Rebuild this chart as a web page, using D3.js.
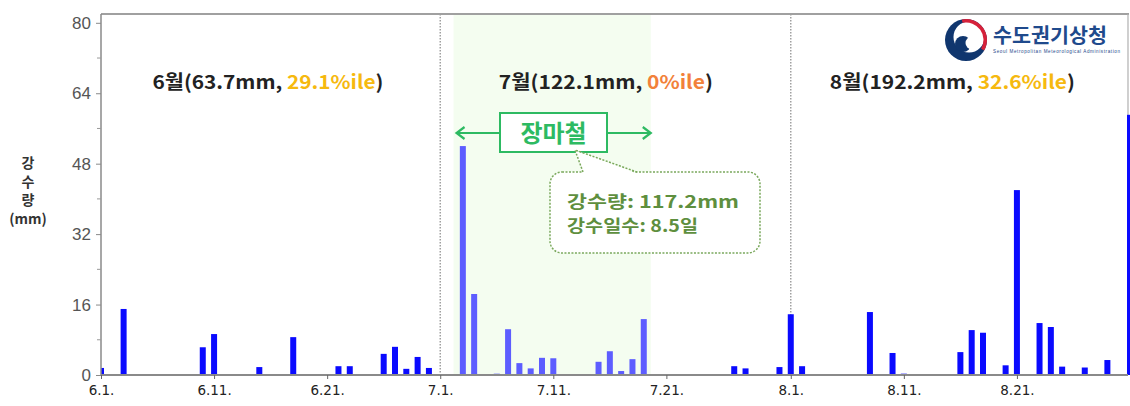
<!DOCTYPE html>
<html><head><meta charset="utf-8">
<script src="https://cdn.jsdelivr.net/npm/d3@7"></script>
<style>
html,body{margin:0;padding:0;background:#fff;}
svg{display:block;}
</style></head>
<body>
<svg id="chart" width="1130" height="406"></svg>
<script>
// ---- data ----
const juneRain = [1.6,0,15.0,0.1,0,0,0,0.1,0,6.3,9.3,0,0,0,1.8,0,0.1,8.6,0,0,0,2.0,2.0,0,0,4.8,6.4,1.4,4.1,1.6];
const julyRain = [0,0,52.0,18.4,0,0.3,10.4,2.7,1.5,3.9,3.8,0,0,0,3.0,5.4,0.9,3.6,12.7,0,0,0,0,0,0,0,2.0,1.5,0,0,1.8];
const augRain  = [13.8,2.0,0,0,0,0.1,0,14.3,0,5.0,0.3,0,0,0,0,5.2,10.2,9.6,0,2.2,42.0,0.2,11.8,10.9,1.9,0.2,1.7,0,3.4,0,59.1];
const yTicks = [0,16,32,48,64,80];
const xTickDates = ["2024-06-01","2024-06-11","2024-06-21","2024-07-01","2024-07-11","2024-07-21","2024-08-01","2024-08-11","2024-08-21"];
const monthDividers = ["2024-07-01","2024-08-01"];
const monsoonStart = "2024-07-02", monsoonEnd = "2024-07-19";
const monthLabels = [
  {month:"6월", total:"63.7mm", pct:"29.1%ile", pctColor:"#f6b90f", from:"2024-06-01", to:"2024-06-30"},
  {month:"7월", total:"122.1mm", pct:"0%ile", pctColor:"#f2813a", from:"2024-07-01", to:"2024-07-31"},
  {month:"8월", total:"192.2mm", pct:"32.6%ile", pctColor:"#f6b90f", from:"2024-08-01", to:"2024-08-31"}
];
const monsoonLabel = "장마철";
const calloutLines = ["강수량: 117.2mm", "강수일수: 8.5일"];
const yLabelLines = ["강","수","량","(mm)"];

const parse = d3.utcParse("%Y-%m-%d");
const day0 = parse("2024-06-01");
const allRain = juneRain.concat(julyRain, augRain);
const data = allRain.map((v,i)=>({date:d3.utcDay.offset(day0,i), value:v}));

// ---- scales ----
const svg = d3.select("#chart");
const L=101, R=1128, T=14, B=375;
const x = d3.scaleUtc().domain([day0, parse("2024-08-31")]).range([101, 1130]);
const y = d3.scaleLinear().domain([0,82]).range([B, T]);

const mS = parse(monsoonStart), mE = parse(monsoonEnd);
const inMonsoon = d => d >= mS && d <= mE;

svg.append("defs").append("clipPath").attr("id","plotclip")
  .append("rect").attr("x",L).attr("y",T).attr("width",R-L+3).attr("height",B-T+1);

// monsoon shading
svg.append("rect").attr("x", x(mS)+2).attr("y", T+1)
  .attr("width", x(mE)+7-(x(mS)+2)).attr("height", B-T-1)
  .attr("fill","#f4fdf0");

// month divider dotted lines
svg.selectAll(".div").data(monthDividers).join("line")
  .attr("x1",d=>x(parse(d))).attr("x2",d=>x(parse(d)))
  .attr("y1",T).attr("y2",B)
  .attr("stroke","#9a9a9a").attr("stroke-width",1.4).attr("stroke-dasharray","1.5,1.5");

// frame
svg.append("line").attr("x1",L).attr("x2",R+1).attr("y1",T).attr("y2",T)
  .attr("stroke","#a0a0a0").attr("stroke-width",2);
svg.append("line").attr("x1",R).attr("x2",R).attr("y1",T).attr("y2",B)
  .attr("stroke","#b0b0b0").attr("stroke-width",1.2);

// bars
const bw = 6;
svg.append("g").attr("clip-path","url(#plotclip)")
  .selectAll("rect").data(data.filter(d=>d.value>0)).join("rect")
  .attr("x", d=>x(d.date)-bw/2)
  .attr("y", d=>y(d.value))
  .attr("width", bw)
  .attr("height", d=>Math.max(0.8, B - y(d.value)))
  .attr("fill", d=> inMonsoon(d.date) ? "#5d5dff" : "#0a0aff");

// y axis
const yAxis = d3.axisLeft(y).tickValues(yTicks).tickSize(5).tickPadding(5);
const gy = svg.append("g").attr("transform",`translate(${L},0)`).call(yAxis);
gy.select(".domain").attr("stroke","#8a8a8a").attr("stroke-width",1.5).attr("d",`M-0,${T}V${B}`);
gy.selectAll(".tick line").attr("stroke","#8a8a8a");
gy.selectAll(".tick text").attr("fill","#555").style("font-family","'Liberation Sans', Arial, sans-serif").style("font-size","17px");
const minor = d3.range(8,81,16);
gy.selectAll(".minor").data(minor).join("line")
  .attr("x1",-4).attr("x2",0).attr("y1",d=>y(d)).attr("y2",d=>y(d)).attr("stroke","#999");

// x axis
const fmt = d3.utcFormat("%-m.%-d.");
const xAxis = d3.axisBottom(x).tickValues(xTickDates.map(parse)).tickFormat(fmt).tickSize(4).tickPadding(6);
const gx = svg.append("g").attr("transform",`translate(0,${B})`).call(xAxis);
gx.select(".domain").attr("stroke","#8a8a8a").attr("stroke-width",2).attr("d",`M${L},0H${R}`);
gx.selectAll(".tick line").attr("stroke","#666");
gx.selectAll(".tick text").attr("fill","#222").style("font-family","'DejaVu Sans', sans-serif").style("font-size","13.5px");

// y label
svg.append("text").attr("x",28).attr("y",168).attr("text-anchor","middle")
  .style("font-family","'Noto Sans CJK KR', sans-serif").style("font-size","14px").style("font-weight","bold").attr("fill","#333")
  .selectAll("tspan").data(yLabelLines).join("tspan")
  .attr("x",28).attr("dy",(d,i)=> i===0?0:18.5).text(d=>d);

// month labels
const labelWidths = [231, 214, 245];
const labelShift = [3, -4, -8];
monthLabels.forEach((m,i)=>{
  const cx = (x(parse(m.from)) + x(parse(m.to)))/2 + labelShift[i];
  const t = svg.append("text").attr("x",cx).attr("y",89).attr("text-anchor","middle")
    .style("font-family","'Noto Sans CJK KR', sans-serif").style("font-size","19px").style("font-weight","bold")
    .attr("fill","#222").attr("textLength",labelWidths[i]).attr("lengthAdjust","spacingAndGlyphs");
  t.append("tspan").text(`${m.month}(${m.total}, `);
  t.append("tspan").attr("fill",m.pctColor).text(m.pct);
  t.append("tspan").text(")");
});

// monsoon arrow + label
const green = "#2dba62";
const ax1 = x(mS)+5, ax2 = x(mE)+7, ay = 133;
svg.append("line").attr("x1",ax1).attr("x2",ax2).attr("y1",ay).attr("y2",ay).attr("stroke",green).attr("stroke-width",2.2);
svg.append("path").attr("d",`M${ax1+8},${ay-6}L${ax1},${ay}L${ax1+8},${ay+6}`).attr("fill","none").attr("stroke",green).attr("stroke-width",2.2);
svg.append("path").attr("d",`M${ax2-8},${ay-6}L${ax2},${ay}L${ax2-8},${ay+6}`).attr("fill","none").attr("stroke",green).attr("stroke-width",2.2);
svg.append("rect").attr("x",500).attr("y",113).attr("width",107).attr("height",39).attr("fill","#fff").attr("stroke",green).attr("stroke-width",2);
svg.append("text").attr("x",553.5).attr("y",142).attr("text-anchor","middle")
  .style("font-family","'Noto Sans CJK KR', sans-serif").style("font-size","24px").style("font-weight","bold")
  .attr("fill",green).text(monsoonLabel);

// callout
const olive = "#5e8f3e";
svg.append("rect").attr("x",550).attr("y",172).attr("width",210).attr("height",81).attr("rx",12)
  .attr("fill","#fff").attr("stroke","#7aa85c").attr("stroke-width",1.5).attr("stroke-dasharray","2,1.5");
svg.append("path").attr("d","M583,173.5L575,150L637,173.5Z").attr("fill","#fff");
svg.append("path").attr("d","M583,172L575,150L637,172").attr("fill","none")
  .attr("stroke","#7aa85c").attr("stroke-width",1.5).attr("stroke-dasharray","2,1.5");
const calloutWidths = [172, 131];
svg.append("g").selectAll("text").data(calloutLines).join("text")
  .style("font-family","'Noto Sans CJK KR', sans-serif").style("font-size","17px").style("font-weight","bold")
  .attr("fill",olive)
  .attr("x",567).attr("y",(d,i)=>208+i*24)
  .attr("textLength",(d,i)=>calloutWidths[i]).attr("lengthAdjust","spacingAndGlyphs")
  .text(d=>d);

// logo
const lg = svg.append("g").attr("transform","translate(966,40)");
lg.append("circle").attr("r",21).attr("fill","#10366e");
lg.append("circle").attr("cx",3).attr("cy",-3).attr("r",15.5).attr("fill","#fff");
lg.append("path").attr("d",d3.arc()({innerRadius:17.5,outerRadius:21,startAngle:-0.2,endAngle:2.1})).attr("fill","#d6213a");
lg.append("circle").attr("cx",-3).attr("cy",4).attr("r",8).attr("fill","#10366e");
lg.append("circle").attr("cx",6).attr("cy",3).attr("r",6.5).attr("fill","#fff");
svg.append("text").attr("x",993).attr("y",43)
  .style("font-family","'Noto Sans CJK KR', sans-serif").style("font-size","20px").style("font-weight","bold")
  .attr("fill","#1f4a8c").attr("textLength",114).attr("lengthAdjust","spacingAndGlyphs").text("수도권기상청");
svg.append("text").attr("x",993).attr("y",53)
  .style("font-family","'Liberation Sans', sans-serif").style("font-size","4.6px")
  .attr("fill","#1f4a8c").attr("textLength",127).text("Seoul Metropolitan Meteorological Administration");
</script>
</body></html>
